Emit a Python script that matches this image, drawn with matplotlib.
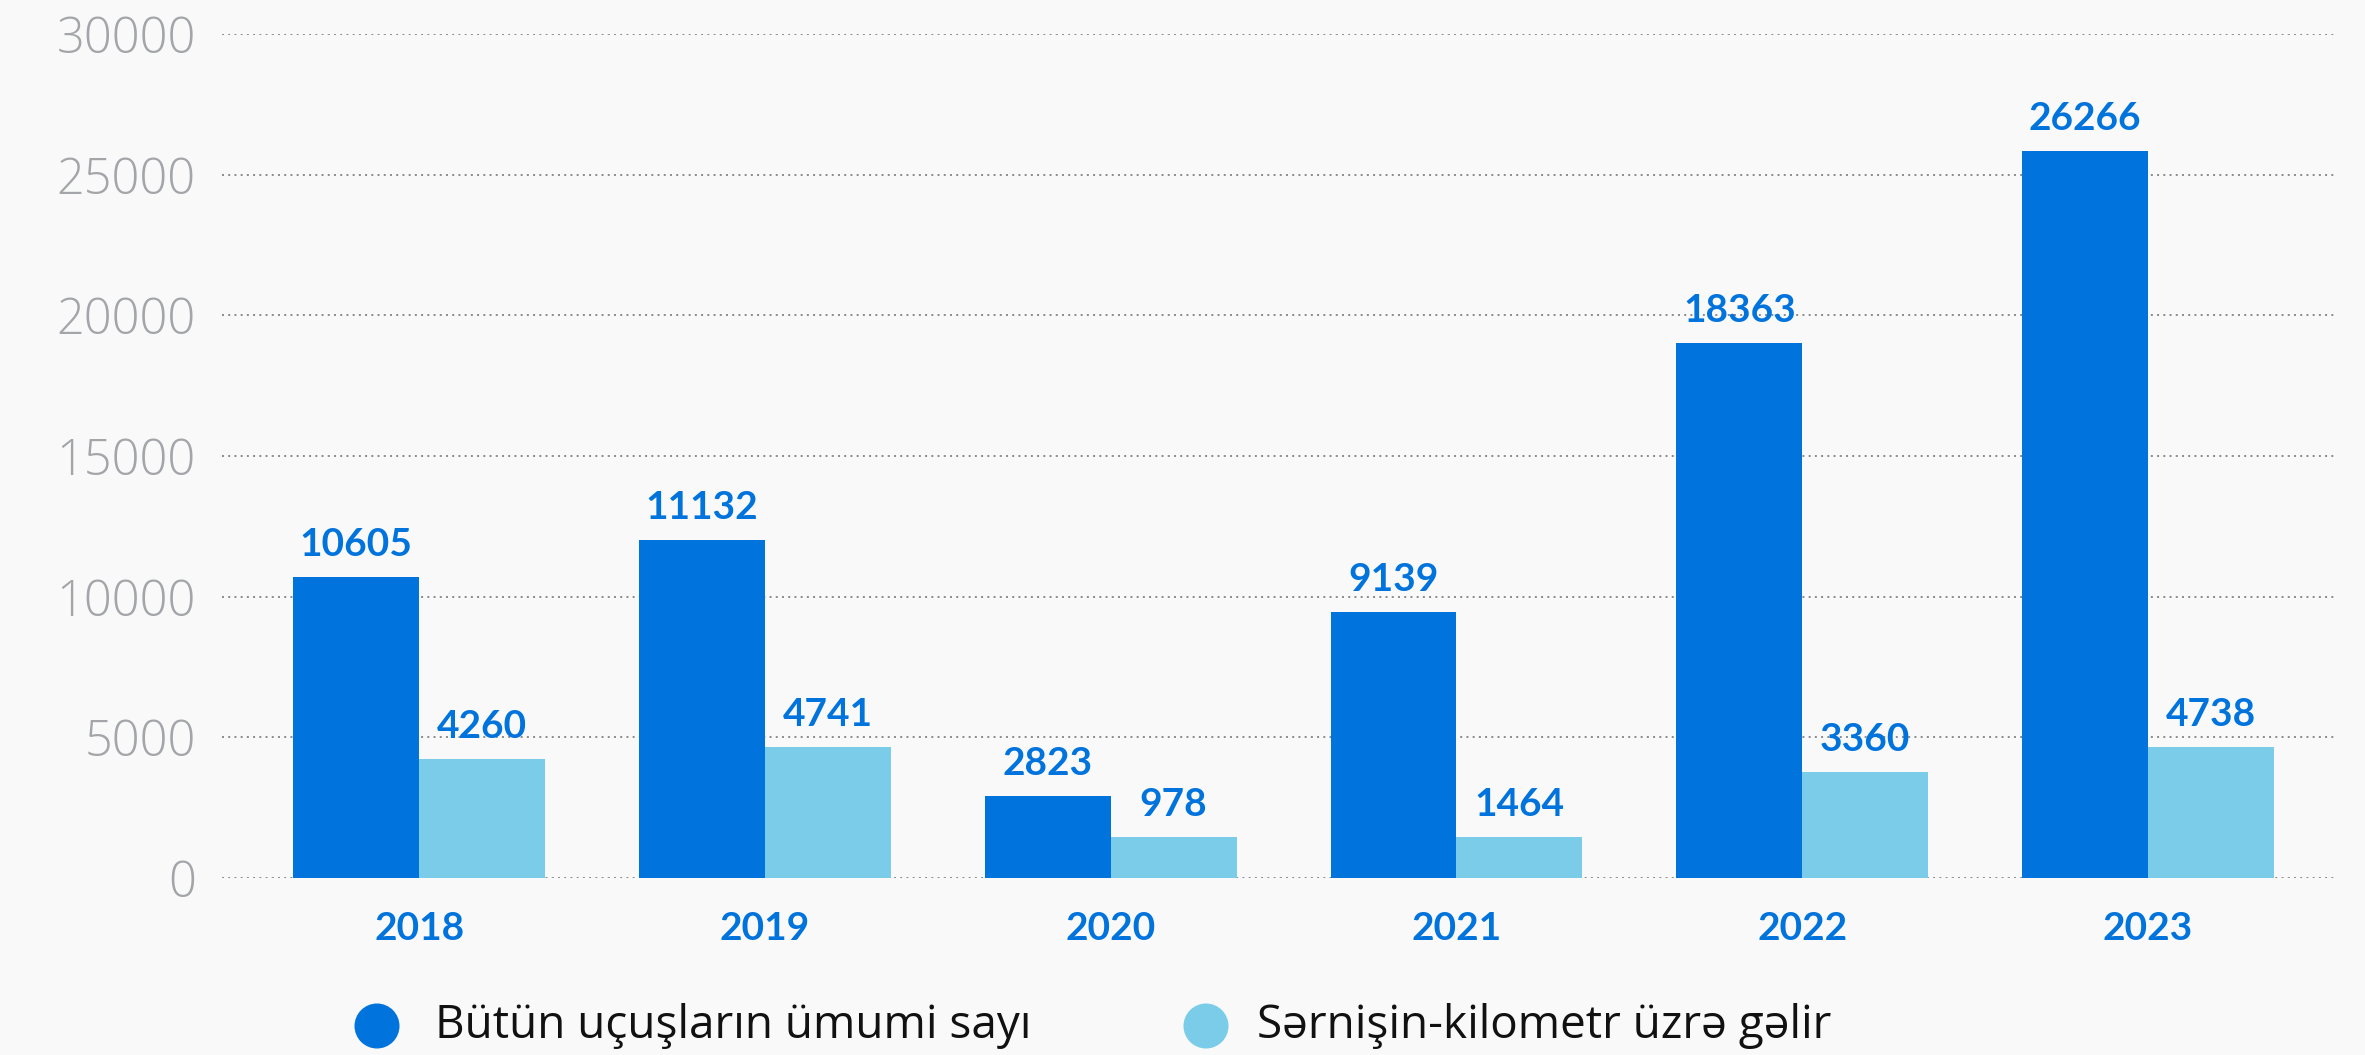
import numpy as np
import matplotlib
matplotlib.use("Agg")
from matplotlib import pyplot as plt

# data
years = ["2018", "2019", "2020", "2021", "2022", "2023"]
series_names = ["Bütün uçuşların ümumi sayı", "Sərnişin-kilometr üzrə gəlir"]
# bar heights as drawn
flights_bars = [10700, 12010, 2915, 9455, 19016, 25840]
revenue_bars = [4230, 4656, 1457, 1457, 3780, 4660]
# printed value labels
flights_labels = ["10605", "11132", "2823", "9139", "18363", "26266"]
revenue_labels = ["4260", "4741", "978", "1464", "3360", "4738"]
y_ticks = [0, 5000, 10000, 15000, 20000, 25000, 30000]

dark = "#0073dc"
light = "#7acce8"
bg = "#f9f9f9"

plt.rcParams['font.family'] = ['Lato', 'DejaVu Sans']

fig = plt.figure(figsize=(23.65, 10.55), dpi=100, facecolor=bg)
ax = fig.add_axes([0.0939, 0.1678, 0.9882 - 0.0939, 0.9678 - 0.1678])
ax.set_facecolor(bg)

x = np.arange(len(years))
w = 0.364
b1 = ax.bar(x - w / 2, flights_bars, w, color=dark, zorder=3)
b2 = ax.bar(x + w / 2, revenue_bars, w, color=light, zorder=3)

for bars, labels in [(b1, flights_labels), (b2, revenue_labels)]:
    for rect, lab in zip(bars, labels):
        ax.annotate(lab, (rect.get_x() + rect.get_width() / 2, rect.get_height()),
                    xytext=(0, 15), textcoords="offset points", ha="center", va="baseline",
                    fontsize=28, fontweight="bold", color=dark)

ax.set_xlim(-0.570, 5.547)
ax.set_ylim(0, 30000)
ax.set_yticks(y_ticks)
ax.set_yticklabels([str(v) for v in y_ticks], fontsize=35, color="#a3a5a9",
                   family=['Open Sans', 'DejaVu Sans'], fontweight="light")
ax.set_xticks(x)
ax.set_xticklabels(years, fontsize=28, fontweight="bold", color=dark)
ax.tick_params(axis="y", length=0, pad=19)
ax.tick_params(axis="x", length=0, pad=24)
for s in ax.spines.values():
    s.set_visible(False)
ax.yaxis.grid(True, color="#8a8a8a", linewidth=1.4, linestyle=(0, (1, 2.2)), zorder=0)
ax.set_axisbelow(True)

# legend drawn in pixel space
lax = fig.add_axes([0, 0, 1, 1])
lax.set_xlim(0, 2365)
lax.set_ylim(1055, 0)
lax.axis("off")
for cx, tx, col, name in [(377, 435, dark, series_names[0]), (1206, 1257, light, series_names[1])]:
    lax.scatter([cx], [1026], s=(45 * 72 / 100) ** 2, color=col, edgecolors="none")
    lax.text(tx, 1026, name, fontsize=33, color="#111111", va="center", ha="left",
             family=['Open Sans', 'DejaVu Sans'])

fig.savefig("out.png", dpi=100, facecolor=bg)
